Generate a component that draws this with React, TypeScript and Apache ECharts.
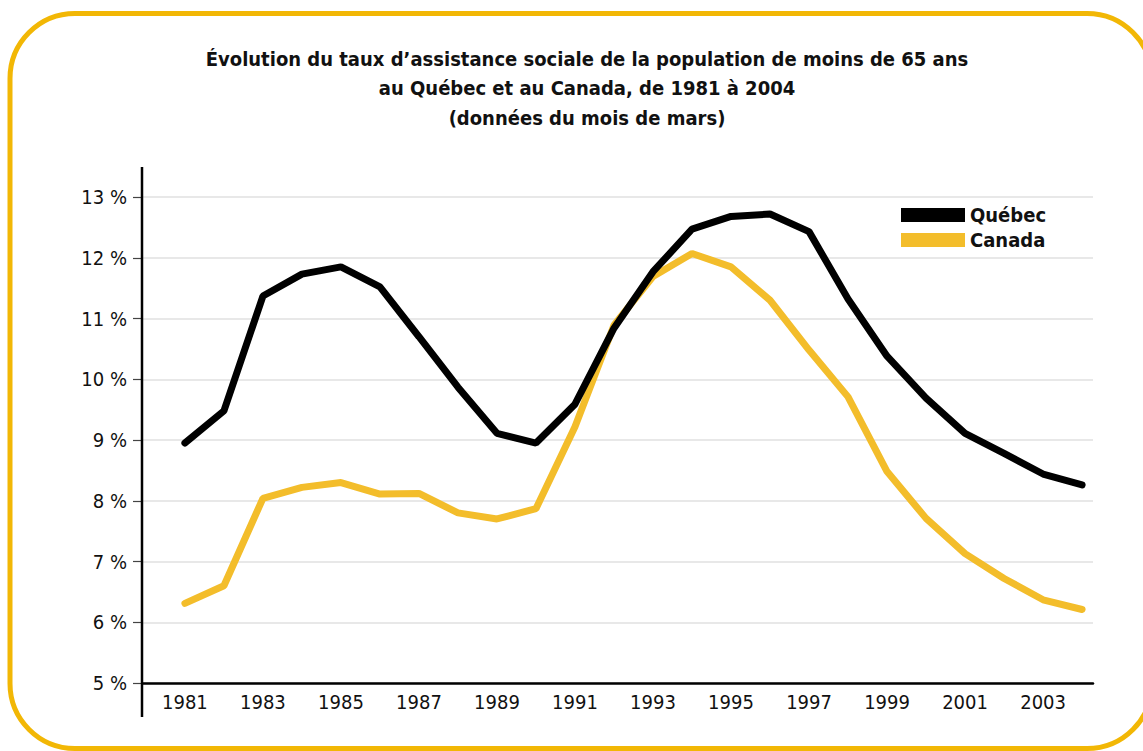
import React, { useEffect, useRef } from "react";
import * as echarts from "echarts";

const years: number[] = [
  1981, 1982, 1983, 1984, 1985, 1986, 1987, 1988, 1989, 1990, 1991, 1992,
  1993, 1994, 1995, 1996, 1997, 1998, 1999, 2000, 2001, 2002, 2003, 2004,
];
const quebec: number[] = [
  8.95, 9.48, 11.37, 11.73, 11.85, 11.52, 10.7, 9.87, 9.11, 8.95, 9.59, 10.84,
  11.77, 12.47, 12.68, 12.72, 12.43, 11.32, 10.38, 9.69, 9.11, 8.78, 8.44, 8.26,
];
const canada: number[] = [
  6.31, 6.6, 8.04, 8.22, 8.3, 8.11, 8.12, 7.8, 7.7, 7.87, 9.22, 10.89, 11.69,
  12.07, 11.85, 11.3, 10.48, 9.71, 8.48, 7.71, 7.13, 6.72, 6.37, 6.21,
];
const xTickLabels: number[] = [
  1981, 1983, 1985, 1987, 1989, 1991, 1993, 1995, 1997, 1999, 2001, 2003,
];
const titleLines: string[] = [
  "Évolution du taux d’assistance sociale de la population de moins de 65 ans",
  "au Québec et au Canada, de 1981 à 2004",
  "(données du mois de mars)",
];

const FONT = "'Liberation Sans Narrow', 'DejaVu Sans Condensed', 'Roboto', sans-serif";

export default function App() {
  const ref = useRef<HTMLDivElement>(null);
  useEffect(() => {
    if (!ref.current) return;
    const chart = echarts.init(ref.current, null, { renderer: "svg" });
    chart.setOption({
      animation: false,
      backgroundColor: "#ffffff",
      textStyle: { fontFamily: FONT },
      title: {
        text: titleLines.join("\n"),
        left: 582,
        top: 39,
        textAlign: "center",
        textStyle: {
          fontFamily: FONT,
          fontSize: 20,
          fontWeight: "bold",
          color: "#111",
          lineHeight: 29.5,
        },
      },
      legend: {
        orient: "vertical",
        left: 896,
        top: 200,
        itemWidth: 64,
        itemHeight: 14,
        itemGap: 5,
        icon: "rect",
        data: ["Québec", "Canada"],
        textStyle: {
          fontFamily: FONT,
          fontSize: 20,
          fontWeight: "bold",
          color: "#111",
        },
      },
      grid: { left: 142, right: 50, top: 197, bottom: 68, containLabel: false },
      xAxis: {
        type: "value",
        min: 1979.9,
        max: 2004.28,
        axisLine: { show: true, lineStyle: { color: "#000", width: 2.5 } },
        axisTick: { show: false },
        splitLine: { show: false },
        axisLabel: {
          customValues: xTickLabels,
          fontFamily: FONT,
          fontSize: 20,
          color: "#111",
          margin: 9,
          formatter: (v: number) => String(v),
        },
      },
      yAxis: {
        type: "value",
        min: 5,
        max: 13,
        interval: 1,
        axisLine: { show: false },
        axisTick: { show: true, length: 9, lineStyle: { color: "#444", width: 1.2 } },
        splitLine: { show: true, lineStyle: { color: "#e0e0e0", width: 1.5 } },
        axisLabel: {
          fontFamily: FONT,
          fontSize: 20,
          color: "#111",
          margin: 15,
          formatter: (v: number) => `${v} %`,
        },
      },
      graphic: [
        {
          type: "rect",
          shape: { x: 10, y: 13.5, width: 1142, height: 735, r: 65 },
          style: { fill: "none", stroke: "#F2B705", lineWidth: 5 },
          silent: true,
          z: 0,
        },
        {
          type: "line",
          shape: { x1: 142, y1: 167, x2: 142, y2: 717 },
          style: { stroke: "#000", lineWidth: 2.5 },
          silent: true,
          z: 10,
        },
      ],
      series: [
        {
          name: "Canada",
          type: "line",
          data: years.map((y, i) => [y, canada[i]]),
          showSymbol: false,
          symbol: "none",
          z: 2,
          itemStyle: { color: "#F3BD2B" },
          lineStyle: { color: "#F3BD2B", width: 7, cap: "round", join: "bevel" },
        },
        {
          name: "Québec",
          type: "line",
          data: years.map((y, i) => [y, quebec[i]]),
          showSymbol: false,
          symbol: "none",
          z: 3,
          itemStyle: { color: "#000000" },
          lineStyle: { color: "#000000", width: 7, cap: "round", join: "bevel" },
        },
      ],
    });
    return () => chart.dispose();
  }, []);
  return (
    <div
      ref={ref}
      style={{ position: "absolute", left: 0, top: 0, width: 1143, height: 751 }}
    />
  );
}
